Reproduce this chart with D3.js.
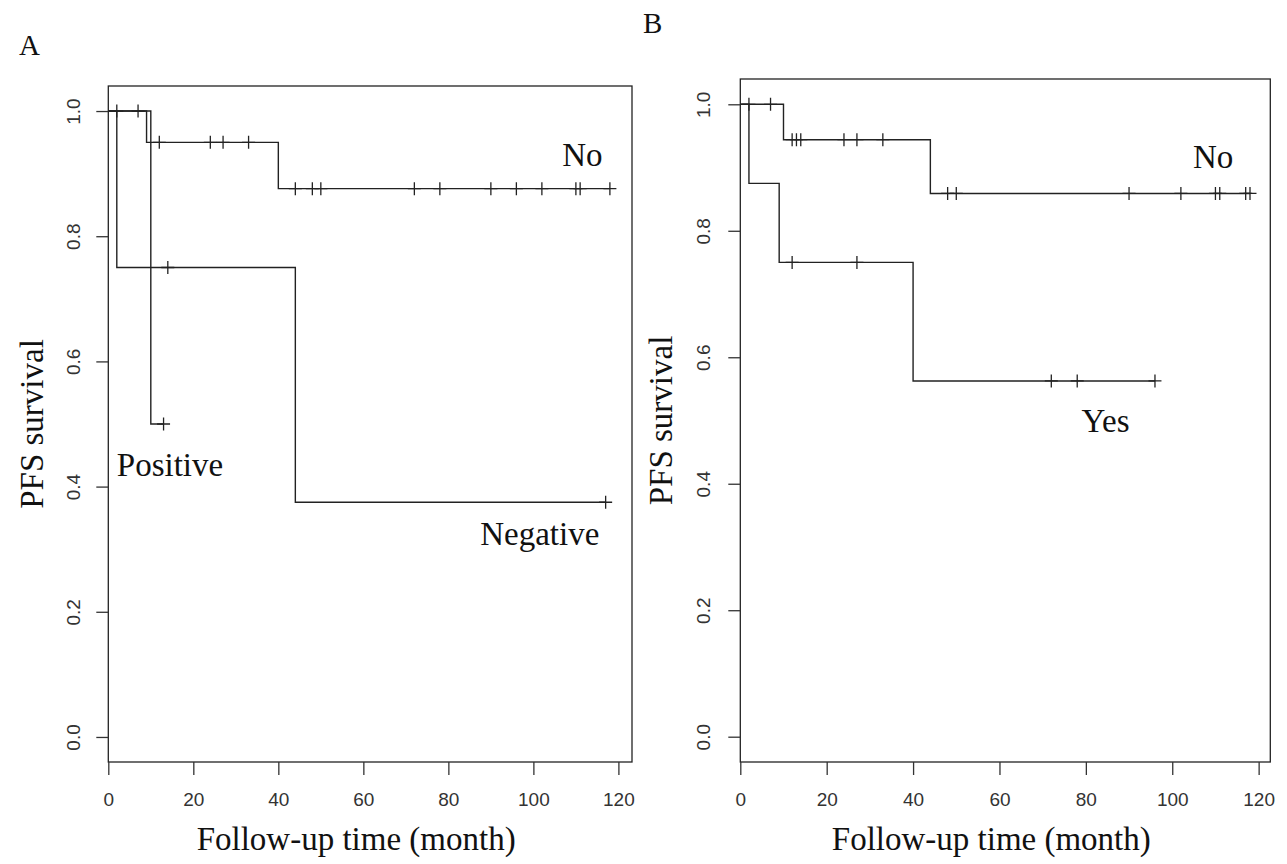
<!DOCTYPE html>
<html>
<head>
<meta charset="utf-8">
<script src="https://cdn.jsdelivr.net/npm/d3@7"></script>
<style>
  body { margin: 0; background: #fff; }
</style>
</head>
<body>
<div id="chart"></div>
<script>
// Axis ticks (shared by both panels)
const xTicks = [0, 20, 40, 60, 80, 100, 120];
const yTicks = [0, 0.2, 0.4, 0.6, 0.8, 1.0];

// Panel A: step times / survival after each step / censor times
const aNoTimes = [0, 9, 40, 118];
const aNoSurv = [1, 0.95, 0.876, 0.876];
const aNoCens = [2, 7, 12, 24, 27, 33, 44, 48, 50, 72, 78, 90, 96, 102, 110, 111, 118];

const aPosTimes = [0, 10, 13];
const aPosSurv = [1, 0.5, 0.5];
const aPosCens = [13];

const aNegTimes = [0, 2, 44, 117];
const aNegSurv = [1, 0.75, 0.375, 0.375];
const aNegCens = [14, 117];

// Panel B
const bNoTimes = [0, 10, 44, 118];
const bNoSurv = [1, 0.944, 0.859, 0.859];
const bNoCens = [2, 7, 12, 13, 14, 24, 27, 33, 48, 50, 90, 102, 110, 111, 117, 118];

const bYesTimes = [0, 2, 9, 40, 96];
const bYesSurv = [1, 0.875, 0.75, 0.5625, 0.5625];
const bYesCens = [12, 27, 72, 78, 96];

// Curve labels: [text, month, survival at baseline]
const aLabels = [["No", 106.8, 0.912], ["Positive", 2.0, 0.417], ["Negative", 87.5, 0.307]];
const bLabels = [["No", 104.8, 0.9], ["Yes", 79, 0.482]];

const W = 1287, H = 864;
const serif = "'Times New Roman', 'Liberation Serif', serif";
const sans = "Arial, 'Liberation Sans', sans-serif";

const svg = d3.select("#chart").append("svg")
  .attr("width", W)
  .attr("height", H);

function drawPanel(p) {
  const x = d3.scaleLinear().domain([0, p.xMax]).range([p.left, p.right]);
  const y = d3.scaleLinear().domain([-0.04, 1.04]).range([p.bottom, p.top]);
  const g = svg.append("g");

  // plot box
  g.append("rect")
    .attr("x", p.left).attr("y", p.top)
    .attr("width", p.right - p.left).attr("height", p.bottom - p.top)
    .attr("fill", "none").attr("stroke", "#222").attr("stroke-width", 1.3);

  // x axis
  const xa = g.append("g")
    .attr("transform", `translate(0,${p.bottom})`)
    .call(d3.axisBottom(x).tickValues(xTicks).tickSize(13).tickSizeOuter(0).tickPadding(18));
  xa.select(".domain").remove();
  xa.selectAll("line").attr("stroke", "#333").attr("stroke-width", 1.3);
  xa.selectAll("text")
    .style("font-family", sans).style("font-size", "19px").attr("fill", "#333");

  // y axis, labels parallel to axis
  const ya = g.append("g")
    .attr("transform", `translate(${p.left},0)`)
    .call(d3.axisLeft(y).tickValues(yTicks).tickSize(12).tickSizeOuter(0).tickFormat(d3.format(".1f")));
  ya.select(".domain").remove();
  ya.selectAll("line").attr("stroke", "#333").attr("stroke-width", 1.3);
  ya.selectAll("text")
    .attr("x", null).attr("dy", "0.36em")
    .attr("transform", `translate(${-p.yLabelOff},0) rotate(-90)`)
    .attr("text-anchor", "middle")
    .style("font-family", sans).style("font-size", "19px").attr("fill", "#333");

  // curves
  const line = d3.line()
    .x(d => x(d[0]))
    .y(d => y(d[1]))
    .curve(d3.curveStepAfter);

  p.curves.forEach(c => {
    const pts = c.times.map((t, i) => [t, c.surv[i]]);
    g.append("path")
      .attr("d", line(pts))
      .attr("fill", "none").attr("stroke", "#222").attr("stroke-width", 1.4);

    const s = 6.5;
    g.append("g").selectAll("path")
      .data(c.cens)
      .join("path")
      .attr("d", t => {
        const i = d3.bisectRight(c.times, t) - 1;
        const cx = x(t), cy = y(c.surv[i]);
        return `M${cx - s},${cy}h${2 * s}M${cx},${cy - s}v${2 * s}`;
      })
      .attr("stroke", "#222").attr("stroke-width", 1.3);
  });

  // curve labels
  g.selectAll("text.curve-label")
    .data(p.labels)
    .join("text")
    .attr("class", "curve-label")
    .attr("x", d => x(d[1]))
    .attr("y", d => y(d[2]))
    .text(d => d[0])
    .style("font-family", serif).style("font-size", "33px").attr("fill", "#111");

  // axis titles
  g.append("text")
    .attr("x", (p.left + p.right) / 2 - 14)
    .attr("y", 850)
    .attr("text-anchor", "middle")
    .text("Follow-up time (month)")
    .style("font-family", serif).style("font-size", "33px").attr("fill", "#111");

  g.append("text")
    .attr("transform", `translate(${p.yTitleX},${(p.top + p.bottom) / 2}) rotate(-90)`)
    .attr("text-anchor", "middle")
    .attr("dy", "0.35em")
    .text("PFS survival")
    .style("font-family", serif).style("font-size", "33px").attr("fill", "#111");

  // panel letter
  g.append("text")
    .attr("x", p.letterX).attr("y", p.letterY)
    .text(p.letter)
    .style("font-family", serif).style("font-size", "29px").attr("fill", "#111");
}

drawPanel({
  left: 108.3, right: 632, top: 86, bottom: 762, xMax: 123.2,
  yLabelOff: 35.5, yTitleX: 31,
  letter: "A", letterX: 19, letterY: 55,
  labels: aLabels,
  curves: [
    { times: aNoTimes, surv: aNoSurv, cens: aNoCens },
    { times: aPosTimes, surv: aPosSurv, cens: aPosCens },
    { times: aNegTimes, surv: aNegSurv, cens: aNegCens }
  ]
});

drawPanel({
  left: 740.3, right: 1270.3, top: 79, bottom: 762, xMax: 122.7,
  yLabelOff: 37, yTitleX: 660,
  letter: "B", letterX: 643, letterY: 33,
  labels: bLabels,
  curves: [
    { times: bNoTimes, surv: bNoSurv, cens: bNoCens },
    { times: bYesTimes, surv: bYesSurv, cens: bYesCens }
  ]
});
</script>
</body>
</html>
